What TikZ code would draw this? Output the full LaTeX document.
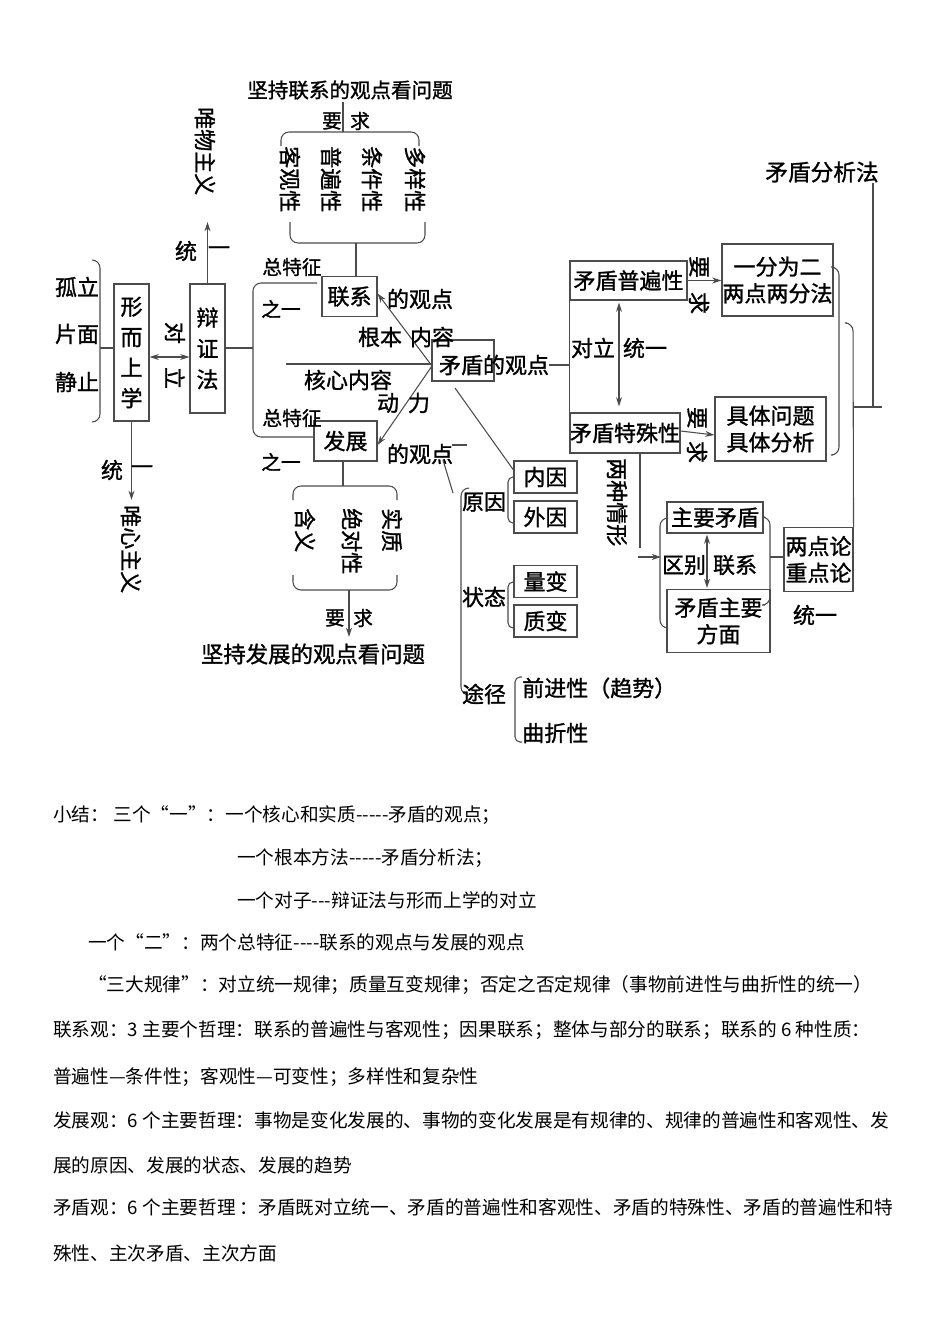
\documentclass[tikz,border=0pt]{standalone}
\usepackage{fontspec}
\setmainfont{Noto Sans CJK SC}
\newfontfamily\dg[FakeBold=1.2]{Noto Sans CJK SC}
\newfontfamily\sumf{Noto Sans CJK SC}
\usetikzlibrary{arrows.meta}
\newdimen\px \px=0.75pt
\begin{document}
\begin{tikzpicture}[x=0.75pt,y=-0.75pt,
  ln/.style={draw=black!70,line width=0.8pt},
  arr/.style={ln,-{Stealth[length=7pt,width=4.5pt]}},
  darr/.style={ln,{Stealth[length=7pt,width=4.5pt]}-{Stealth[length=7pt,width=4.5pt]}},
  br/.style={ln,rounded corners=8\px},
  sbr/.style={ln,rounded corners=5\px},
  t/.style={inner sep=0pt,font=\dg\fontsize{16.5}{20}\selectfont},
  ts/.style={inner sep=0pt,font=\dg\fontsize{14.8}{18}\selectfont},
  vt/.style={t,rotate=-90,anchor=west},
  vc/.style={t,rotate=-90},
  box/.style={draw=black!70,line width=0.8pt,inner sep=0pt,align=center,font=\dg\fontsize{16.5}{20}\selectfont},
  sm/.style={inner sep=0pt,anchor=west,font=\sumf\fontsize{14}{17}\selectfont}]
\useasboundingbox[fill=white] (0,0) rectangle (950,1342);

% ---------- top: link view ----------
\node[inner sep=0pt,font=\dg\fontsize{15.4}{18}\selectfont] (tl) at (350,90) {坚持联系的观点看问题};
\node[ts] (yq1a) at (332,121) {要};
\node[ts] (yq1b) at (360,121) {求};
\coordinate (t1a) at (343,102);
\coordinate (t1b) at (343,132);
\draw[ln] (t1a) -- (t1b);
\draw[br] (281,146) -- (281,132) -- (419,132) -- (419,146);
\node[vt] (kgx) at (290,146) {客观性};
\node[vt] (pbx) at (331,146) {普遍性};
\node[vt] (tjx) at (372,146) {条件性};
\node[vt] (dyx) at (415,146) {多样性};
\draw[br] (290,222) -- (290,243) -- (425,243) -- (425,222);
\node[box,minimum width=55\px,minimum height=40\px] (lx) at (349.5,296.5) {联系};
\coordinate (b1) at (356,243);
\draw[ln] (b1) -- (b1 |- lx.north);
\node[t] (lxg) at (420,299) {的观点};

% ---------- left ----------
\node[vt] (wwzy) at (205,107) {唯物主义};
\node[box,minimum width=35\px,minimum height=129\px,font=\dg\fontsize{16.5}{23.2}\selectfont] (bz) at (207.5,348.5) {辩\\证\\法};
\node[box,minimum width=35\px,minimum height=137\px,font=\dg\fontsize{16.5}{22.9}\selectfont] (xs) at (131.5,352.5) {形\\而\\上\\学};
\coordinate (wwtip) at (bz.north |- 0,222);
\draw[arr] (bz.north) -- (wwtip);
\node[t] (ty1a) at (186,251) {统};
\node[t] (ty1b) at (219,251) {一};
\draw[darr] (xs.east |- 0,357) -- (bz.west |- 0,357);
\node[vc] (dl1) at (175,333) {对};
\node[vc] (dl2) at (175,378) {立};
\node[t] (gl) at (77,287) {孤立};
\node[t] (pm) at (77,334) {片面};
\node[t] (jz) at (77,382) {静止};
\draw[br] (92,260) -- (100,260) -- (100,422) -- (92,422);
\coordinate (lb) at (100,348);
\draw[ln] (lb) -- (lb -| xs.west);
\coordinate (wxtip) at (xs.south |- 0,500);
\draw[arr] (xs.south) -- (wxtip);
\node[t] (ty2a) at (112,470) {统};
\node[t] (ty2b) at (142,470) {一};
\node[vt] (wxzy) at (131,505) {唯心主义};

% ---------- dialectics bracket ----------
\node[box,minimum width=63\px,minimum height=40\px] (fz) at (345.5,441) {发展};
\draw[br] (317,283) -- (253,283) -- (253,437) -- (fz.west |- 0,437);
\coordinate (bm) at (253,348);
\draw[ln] (bz.east |- bm) -- (bm);
\node[ts] (zt1) at (292,267) {总特征};
\node[ts] (zy1) at (281,309) {之一};
\node[ts] (zt2) at (292,418) {总特征};
\node[ts] (zy2) at (281,462) {之一};
\node[t] (fzg) at (420,454) {的观点};

% ---------- contradiction view ----------
\node[draw=black!70,line width=0.8pt,minimum width=62\px,minimum height=41\px,inner sep=0pt] (md) at (463,360.5) {};
\node[t] (mdt) at (494,365) {矛盾的观点};
\coordinate (cx) at (432,366);
\coordinate (hl) at (286,364);
\draw[ln] (hl) -- (hl -| md.west);
\draw[arr] (cx) -- ([yshift=3\px]lx.east);
\draw[arr] (cx) -- ([yshift=-4\px]fz.east);
\node[t] (gb) at (380,337) {根本};
\node[t] (nr) at (432,337) {内容};
\node[t] (hxnr) at (348,380) {核心内容};
\node[t] (dl) at (388,403) {动};
\node[t] (li) at (419,403) {力};

% development subtree
\coordinate (fzb) at (fz.south -| 343,0);
\draw[ln] (fzb) -- (343,486);
\draw[br] (293,500) -- (293,486) -- (397,486) -- (397,500);
\node[vt] (hy) at (305,508) {含义};
\node[vt] (jdx) at (352,508) {绝对性};
\node[vt] (sz) at (392,508) {实质};
\draw[br] (293,575) -- (293,590) -- (397,590) -- (397,575);
\coordinate (fb) at (349,590);
\coordinate (fbt) at (349,637);
\draw[arr] (fb) -- (fbt);
\node[ts] (yq2a) at (335,618) {要};
\node[ts] (yq2b) at (363,618) {求};
\node[inner sep=0pt,font=\dg\fontsize{16.8}{20}\selectfont] (tl2) at (313,654) {坚持发展的观点看问题};

% causes / states / paths
\coordinate (s1) at (452,445);
\draw[ln] (s1) -- (467,445);
\coordinate (s2) at (443,460);
\draw[ln] (s2) -- (453,493);
\node[box,minimum width=63\px,minimum height=32\px] (ny) at (545.5,477) {内因};
\node[box,minimum width=63\px,minimum height=32\px] (wy) at (545.5,517) {外因};
\node[box,minimum width=63\px,minimum height=32\px] (lb2) at (545.5,581.5) {量变};
\node[box,minimum width=63\px,minimum height=32\px] (zb) at (545.5,621) {质变};
\coordinate (ml) at (455,388);
\draw[ln] (ml) -- (ny.west |- 0,470);
\draw[br] (469,488) -- (461,488) -- (461,695) -- (469,695);
\node[t] (yy) at (484,502) {原因};
\node[t] (zt) at (484,597) {状态};
\node[t] (tj) at (484,694) {途径};
\draw[sbr] (ny.west) -- (508,477) -- (508,523) -- (wy.west |- 0,523);
\draw[sbr] (lb2.west |- 0,582) -- (508,582) -- (508,628) -- (zb.west |- 0,628);
\draw[sbr] (522,677) -- (515,677) -- (515,742) -- (522,742);
\node[t,anchor=west] (qjx) at (522,688) {前进性（趋势）};
\node[t,anchor=west] (qzx) at (522,733) {曲折性};

% universality / particularity
\node[box,minimum width=117\px,minimum height=39\px] (pb) at (628.5,280.5) {矛盾普遍性};
\node[box,minimum width=110\px,minimum height=40\px] (ts) at (625,433) {矛盾特殊性};
\draw[ln] (mdt.east) -- (mdt.east -| pb.west);
\draw[ln] (pb.south west) -- (ts.north west);
\draw[darr] ([yshift=-2\px]pb.south -| 619,0) -- ([yshift=6\px]ts.north -| 619,0);
\node[t] (dl3) at (593,348) {对立};
\node[t] (ty3) at (645,348) {统一};
\node[box,minimum width=111\px,minimum height=72\px] (yf) at (777.5,280) {一分为二\\两点两分法};
\node[box,minimum width=111\px,minimum height=64\px] (jt) at (770.5,429) {具体问题\\具体分析};
\draw[arr] (pb.east) -- (yf.west |- pb.east);
\draw[arr] ([yshift=2\px]ts.east) -- (jt.west |- 0,435);
\node[vc] (yq3a) at (699,267) {要};
\node[vc] (yq3b) at (699,303) {求};
\node[vc] (yq4a) at (697,418) {要};
\node[vc] (yq4b) at (697,452) {求};

% right brackets
\node[box,minimum width=69\px,minimum height=64\px] (ld) at (818.5,559.5) {两点论\\重点论};
\draw[br] (833,267) -- (839,267) -- (839,455) -- (833,455);
\draw[br] (847,323) -- (853,323) -- (ld.north east);
\coordinate (rj) at (853,407);
\draw[ln] (rj) -- (882,407);
\coordinate (rt) at (873,183);
\draw[ln] (rt) -- (rt |- rj);
\node[inner sep=0pt,font=\dg\fontsize{17}{20}\selectfont] (mdfx) at (822,172) {矛盾分析法};

% two situations
\node[vt] (lzqx) at (617,458) {两种情形};
\coordinate (v1) at (ts.south -| 640,0);
\draw[ln] (v1) -- (640,548);
\coordinate (a1) at (638,557);
\draw[arr] (a1) -- (661,557);
\node[box,minimum width=96\px,minimum height=31\px] (zy) at (715,517.5) {主要矛盾};
\node[box,minimum width=103\px,minimum height=63\px] (fm) at (718.5,621) {矛盾主要\\方面};
\draw[br] (667,518) -- (660,518) -- (660,628) -- (667,628);
\draw[br] (765,517) -- (770,517) -- (770,605) -- (765,605);
\coordinate (rc) at (770,557);
\draw[ln] (rc) -- (rc -| ld.west);
\draw[darr] ([yshift=-1\px]zy.south -| 707,0) -- ([yshift=1\px]fm.north -| 707,0);
\node[t] (qb) at (684,565) {区别};
\node[t] (lx2) at (735,565) {联系};
\node[t] (ty4) at (815,615) {统一};

% ---------- summary ----------
\node[sm] (s01) at (53,815) {小结： 三个“一”：一个核心和实质-----矛盾的观点；};
\node[sm] (s02) at (237,858) {一个根本方法-----矛盾分析法；};
\node[sm] (s03) at (237,900) {一个对子---辩证法与形而上学的对立};
\node[sm] (s04) at (88,942) {一个“二”：两个总特征----联系的观点与发展的观点};
\node[sm] (s05) at (88,985) {“三大规律”：对立统一规律；质量互变规律；否定之否定规律（事物前进性与曲折性的统一）};
\node[sm] (s06) at (53,1030) {联系观：3 主要个哲理：联系的普遍性与客观性；因果联系；整体与部分的联系；联系的 6 种性质：};
\node[sm] (s07) at (53,1077) {普遍性—条件性；客观性—可变性；多样性和复杂性};
\node[sm] (s08) at (53,1120) {发展观：6 个主要哲理：事物是变化发展的、事物的变化发展是有规律的、规律的普遍性和客观性、发};
\node[sm] (s09) at (53,1165) {展的原因、发展的状态、发展的趋势};
\node[sm] (s10) at (53,1207) {矛盾观：6 个主要哲理 ：矛盾既对立统一、矛盾的普遍性和客观性、矛盾的特殊性、矛盾的普遍性和特};
\node[sm] (s11) at (53,1253) {殊性、主次矛盾、主次方面};
\end{tikzpicture}
\end{document}
